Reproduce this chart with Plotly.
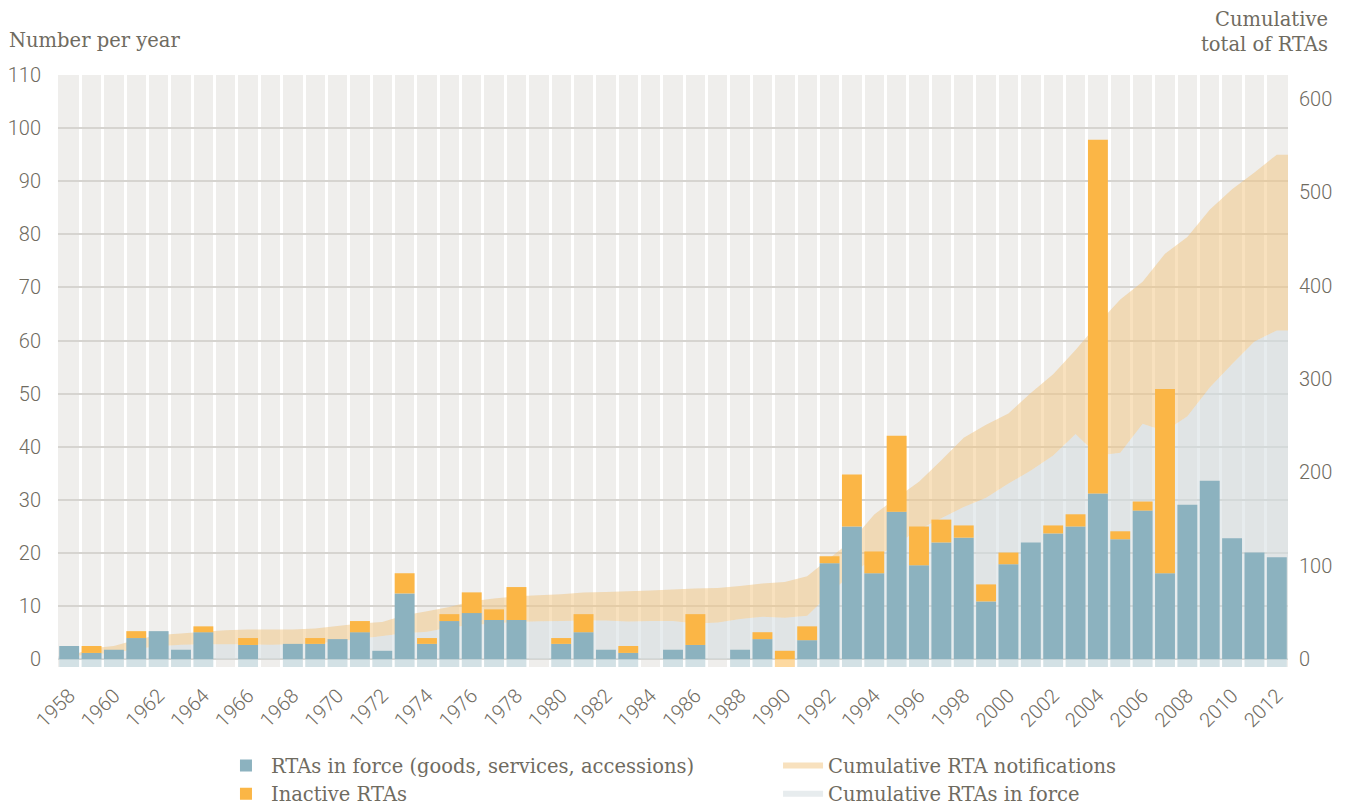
import plotly.graph_objects as go

# ---- data ----
YEARS = list(range(1958, 2013))

# RTAs in force notified per year (left axis)
IN_FORCE = [
    2.5, 1.2, 1.8, 4.0, 5.3, 1.8, 5.1, 0, 2.7, 0,
    2.9, 2.9, 3.8, 5.1, 1.6, 12.4, 2.9, 7.2, 8.7, 7.4,
    7.4, 0, 2.9, 5.1, 1.8, 1.2, 0, 1.8, 2.7, 0,
    1.8, 3.8, 0, 3.6, 18.1, 25.0, 16.2, 27.8, 17.7, 22.0,
    22.9, 10.9, 17.9, 22.0, 23.7, 25.0, 31.2, 22.6, 28.0, 16.2,
    29.1, 33.6, 22.8, 20.1, 19.2,
]

# Inactive RTAs per year (stacked on top)
INACTIVE = [
    0, 1.3, 0, 1.3, 0, 0, 1.1, 0, 1.3, 0,
    0, 1.1, 0, 2.1, 0, 3.8, 1.1, 1.3, 3.9, 2.0,
    6.2, 0, 1.1, 3.4, 0, 1.3, 0, 0, 5.8, 0,
    0, 1.3, 1.6, 2.6, 1.3, 9.8, 4.1, 14.3, 7.3, 4.3,
    2.3, 3.2, 2.2, 0, 1.5, 2.3, 66.6, 1.5, 1.7, 34.7,
    0, 0, 0, 0, 0,
]

# cumulative totals (right axis)
CUM_NOTIFICATIONS = [
    3, 11.7, 14.2, 21, 26, 27.7, 29.5, 31, 32, 32,
    32, 33, 35.5, 38.4, 40, 47, 51.5, 56, 62, 65,
    67.5, 68.6, 69.6, 71.4, 72, 72.8, 73.6, 74.6, 75.7, 76.4,
    78.5, 81, 82.8, 89, 108, 127, 155, 173, 190, 213,
    237, 251, 263, 285, 305, 331, 359, 385, 404, 434,
    452, 481, 503, 521, 540,
]
CUM_IN_FORCE = [
    3, 5, 7, 11, 14, 15.5, 16, 16, 16, 15.5,
    16, 17, 19, 22, 25, 28, 29.5, 34, 36.6, 38.4,
    40, 40.8, 41, 41.6, 41.5, 40.5, 41, 41, 38.4, 39.4,
    43, 45.4, 44.4, 46.5, 70, 92, 108, 123, 139, 151,
    163, 173, 188, 202, 218, 241, 218, 221, 252, 244,
    260, 291, 316, 340, 352,
]

LEFT_TICKS = list(range(0, 111, 10))
RIGHT_TICKS = list(range(0, 601, 100))
YEAR_TICKS = YEARS[::2]

TEXT = "#6f6b5f"
BLUE = "#8cb2bf"
ORANGE = "#fbb646"
SERIF = "DejaVu Serif"
SANS = "Roboto"

# areas run out to the plot edges, holding the end values
area_x = [YEARS[0] - 0.5] + YEARS + [YEARS[-1] + 0.5]
notif_y = [CUM_NOTIFICATIONS[0]] + CUM_NOTIFICATIONS + [CUM_NOTIFICATIONS[-1]]
inforce_y = [CUM_IN_FORCE[0]] + CUM_IN_FORCE + [CUM_IN_FORCE[-1]]

# light "plinth" under each bar
BASE_DEPTH = 1.45
totals = [a + b for a, b in zip(IN_FORCE, INACTIVE)]
plinth = [BASE_DEPTH if t > 0 else 0 for t in totals]
plinth_colors = ["#d3e1e5" if a > 0 else "#fdd9a0" for a in IN_FORCE]

fig = go.Figure()

# cumulative areas on the primary (right-hand) axis so the bars sit on top
fig.add_trace(
    go.Scatter(
        x=area_x,
        y=inforce_y,
        mode="none",
        fill="tozeroy",
        fillcolor="rgba(211,220,224,0.55)",
        name="Cumulative RTAs in force",
        legend="legend2",
        legendrank=2,
        hoverinfo="skip",
        yaxis="y",
    )
)
fig.add_trace(
    go.Scatter(
        x=area_x,
        y=notif_y,
        mode="none",
        fill="tonexty",
        fillcolor="rgba(241,196,125,0.5)",
        name="Cumulative RTA notifications",
        legend="legend2",
        legendrank=1,
        hoverinfo="skip",
        yaxis="y",
    )
)

fig.add_trace(
    go.Bar(
        x=YEARS,
        y=plinth,
        base=-BASE_DEPTH,
        width=0.89,
        marker={"color": plinth_colors, "line": {"width": 0}},
        showlegend=False,
        hoverinfo="skip",
        yaxis="y2",
    )
)
fig.add_trace(
    go.Bar(
        x=YEARS,
        y=IN_FORCE,
        base=0,
        width=0.89,
        marker={"color": BLUE, "line": {"width": 0}},
        name="RTAs in force (goods, services, accessions)",
        legendrank=1,
        yaxis="y2",
    )
)
fig.add_trace(
    go.Bar(
        x=YEARS,
        y=INACTIVE,
        base=IN_FORCE,
        width=0.89,
        marker={"color": ORANGE, "line": {"width": 0}},
        name="Inactive RTAs",
        legendrank=2,
        yaxis="y2",
    )
)

legend_style = {
    "orientation": "v",
    "yanchor": "top",
    "y": -0.134,
    "xanchor": "left",
    "font": {"family": SERIF, "size": 19.5, "color": TEXT},
    "itemwidth": 40,
    "traceorder": "normal",
    "bgcolor": "rgba(0,0,0,0)",
}

# the page adds an 8px body margin, so the figure is 8px smaller each way
fig.update_layout(
    width=1340,
    height=802,
    autosize=False,
    barmode="overlay",
    paper_bgcolor="white",
    plot_bgcolor="#efeeec",
    margin={"l": 50, "r": 60, "t": 67, "b": 143, "autoexpand": False},
    font={"family": SANS, "color": TEXT},
    xaxis={
        "range": [YEARS[0] - 0.5, YEARS[-1] + 0.5],
        "tickvals": YEAR_TICKS,
        "tickangle": -45,
        "tickfont": {"family": SANS, "size": 20, "color": TEXT, "weight": 300},
        "ticks": "",
        "showgrid": False,
        "zeroline": False,
        "showline": False,
        "automargin": False,
        "ticklabelstandoff": 12,
        "minor": {
            "tick0": YEARS[0] - 0.5,
            "dtick": 1,
            "showgrid": True,
            "gridcolor": "white",
            "gridwidth": 2.5,
            "ticks": "",
        },
    },
    yaxis={
        "side": "right",
        "range": [-8.25, 625.3],
        "tickvals": RIGHT_TICKS,
        "tickfont": {"family": SANS, "size": 20, "color": TEXT, "weight": 300},
        "showgrid": False,
        "zeroline": False,
        "ticks": "",
        "automargin": False,
        "ticklabelstandoff": 10,
    },
    yaxis2={
        "overlaying": "y",
        "side": "left",
        "range": [-1.45, 110],
        "tickvals": LEFT_TICKS,
        "tickfont": {"family": SANS, "size": 20, "color": TEXT, "weight": 300},
        "showgrid": True,
        "gridcolor": "#d6d4d0",
        "gridwidth": 1.5,
        "zeroline": False,
        "ticks": "",
        "automargin": False,
        "ticklabelstandoff": 16,
    },
    legend={**legend_style, "x": 0.1325},
    legend2={**legend_style, "x": 0.5854},
    annotations=[
        {
            "text": "Number per year",
            "xref": "paper",
            "yref": "paper",
            "x": -0.0415,
            "y": 1.059,
            "xanchor": "left",
            "yanchor": "middle",
            "showarrow": False,
            "font": {"family": SERIF, "size": 19.5, "color": TEXT},
        },
        {
            "text": "Cumulative<br>total of RTAs",
            "xref": "paper",
            "yref": "paper",
            "x": 1.0341,
            "y": 1.072,
            "xanchor": "right",
            "yanchor": "middle",
            "align": "right",
            "showarrow": False,
            "font": {"family": SERIF, "size": 19.5, "color": TEXT},
        },
    ],
)

fig.write_html("out.html")
